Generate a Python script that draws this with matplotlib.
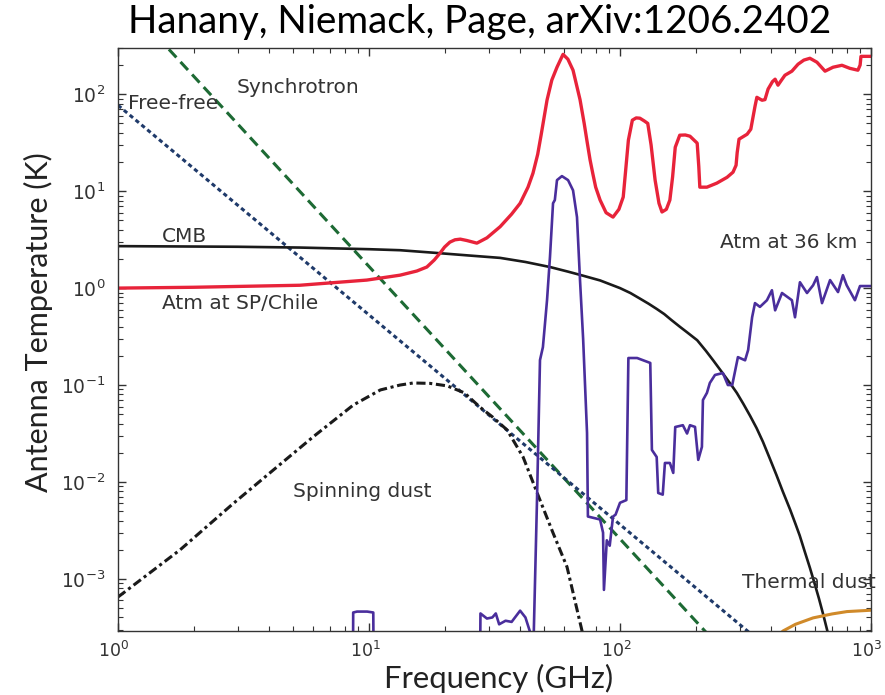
import numpy as np
import matplotlib
matplotlib.use("Agg")
import matplotlib.pyplot as plt
from matplotlib.transforms import ScaledTranslation

# ---------------- data ----------------
cmb_f = [1, 3, 5.3, 10, 13.3, 18, 25, 33.3, 42, 52.6, 62, 70, 83.3, 100, 110, 120, 130,
         140, 150, 160, 173, 185, 203, 220, 235, 250, 265, 280, 292, 310, 330, 350, 371,
         395, 420, 445, 476, 500, 520, 545, 571, 595, 620, 645, 668, 695, 720]
cmb_T = [2.71, 2.67, 2.62, 2.52, 2.46, 2.32, 2.17, 2.05, 1.86, 1.65, 1.48, 1.36, 1.2,
         1.0, 0.89, 0.78, 0.69, 0.61, 0.54, 0.47, 0.40, 0.35, 0.29, 0.225, 0.18, 0.145,
         0.118, 0.097, 0.083, 0.064, 0.048, 0.036, 0.026, 0.0175, 0.0118, 0.0080, 0.0052,
         0.0037, 0.0028, 0.0019, 0.0013, 0.00091, 0.00063, 0.00043, 0.00030, 0.00020,
         0.00013]

sync_f = [1, 300]
sync_T = [1080, 1.18e-4]

ff_f = [1, 1000]
ff_T = [77, 2.5e-5]

spin_f = [1, 1.77, 2.88, 4.16, 6.0, 8.66, 11.1, 13.3, 15.0, 17.5, 20.5, 24, 27.7, 31,
          35.5, 41.1, 48.0, 54.1, 61.5, 70.6, 80]
spin_T = [6.5e-4, 2.0e-3, 6.0e-3, 0.0133, 0.0293, 0.0622, 0.089, 0.100, 0.105, 0.104,
          0.098, 0.083, 0.059, 0.047, 0.0344, 0.0181, 6.5e-3, 2.98e-3, 1.33e-3, 2.9e-4, 6e-5]

atm_sp_f = [1, 2, 5.3, 9.8, 13.3, 15.5, 17.0, 18.2, 19.2, 20.0, 21.0, 22.0, 23.1, 24.5,
            26.9, 29.5, 33.3, 37, 40, 43, 45, 47, 48.5, 51.2, 53.5, 56.1, 59.3, 62, 65,
            69.3, 72, 74, 76, 78, 80, 83.3, 88, 93.8, 99, 103, 105, 108, 112, 116, 120,
            125, 129, 133, 138, 143, 147, 153, 158, 162, 166, 173, 182, 190, 203, 206,
            208, 222, 243, 267, 282, 290, 293, 298, 321, 332, 345, 351, 368, 378, 389,
            405, 415, 426, 440, 454, 484, 512, 540, 571, 609, 656, 706, 766, 824, 887,
            905, 912, 1000]
atm_sp_T = [1.0, 1.02, 1.07, 1.21, 1.36, 1.5, 1.65, 1.95, 2.3, 2.65, 2.98, 3.15, 3.2, 3.1,
            2.91, 3.3, 4.3, 5.8, 7.5, 11, 15.3, 24, 38, 87, 140, 190, 258, 230, 177,
            88, 50, 32, 21, 15, 11, 8.1, 6.0, 5.4, 6.5, 8.7, 15, 33.6, 54, 57, 56.6,
            53, 50, 30, 13, 7.5, 6.1, 6.5, 8.1, 14, 28.4, 37.8, 38, 36.9, 31.3, 18,
            11, 11, 12.1, 13.9, 15.7, 18.5, 25, 34.4, 38.7, 43.6, 75, 93, 86.7, 88, 113,
            135, 143, 124, 140, 157, 173, 204, 225, 235, 214, 173, 190, 199, 185, 177,
            200, 246, 246]

atm36_f = [1, 8.6, 8.65, 8.96, 9.83, 10.4, 10.5, 27.5, 27.8, 29.5, 31, 32, 33, 35, 37, 40,
           42, 44.5, 45.2, 46.7, 48, 49.3, 50.4, 51.2, 52.6, 54.1, 55, 56.1, 58.7, 62.1,
           65, 67.4, 69.3, 71.3, 73.9, 74.5, 83.3, 85.6, 86.3, 88.6, 91, 93.8, 96, 100,
           106, 108, 117, 132, 134, 140, 142, 148, 151, 158, 163, 166, 178, 185, 190,
           199, 205, 212, 214, 222, 228, 239, 257, 269, 280, 295, 315, 324, 336, 345,
           361, 385, 403, 415, 442, 484, 498, 521, 556, 588, 609, 638, 687, 739, 773,
           800, 863, 904, 1000]
atm36_T = [1e-5, 1e-5, 4.5e-4, 4.6e-4, 4.6e-4, 4.5e-4, 1e-5, 1e-5, 4.4e-4, 3.9e-4, 4.0e-4,
           4.4e-4, 3.4e-4, 3.7e-4, 3.6e-4, 4.7e-4, 4.0e-4, 2.5e-4, 2.0e-4, 6.5e-3, 0.181,
           0.246, 0.47, 0.75, 2.09, 7.5, 8.1, 13, 14.3, 13, 10.2, 5.4, 1.2, 0.3, 0.032,
           4.4e-3, 4.1e-3, 3.0e-3, 7.7e-4, 2.5e-3, 2.2e-3, 4.4e-3, 4.6e-3, 6.1e-3, 6.5e-3,
           0.19, 0.19, 0.169, 0.0214, 0.0181, 7.7e-3, 7.4e-3, 0.0157, 0.0157, 0.0124,
           0.0369, 0.0385, 0.0316, 0.0385, 0.037, 0.0169, 0.023, 0.07, 0.083, 0.105,
           0.127, 0.133, 0.1, 0.1, 0.194, 0.18, 0.23, 0.5, 0.7, 0.64, 0.75, 0.95, 0.59,
           0.89, 0.75, 0.5, 1.15, 0.89, 1.07, 1.3, 0.7, 1.21, 0.91, 1.36, 1.07, 0.75,
           1.05, 1.05]

tdust_f = [400, 446, 500, 588, 700, 802, 1000]
tdust_T = [2.2e-4, 2.9e-4, 3.4e-4, 3.96e-4, 4.35e-4, 4.6e-4, 4.75e-4]

title = "Hanany, Niemack, Page, arXiv:1206.2402"
xlabel = "Frequency (GHz)"
ylabel = "Antenna Temperature (K)"

# ---------------- figure ----------------
W, H = 885, 695
fig = plt.figure(figsize=(W / 100, H / 100), dpi=100)
ax = fig.add_axes([118 / W, 1 - 631 / H, (871 - 118) / W, (631 - 48) / H])

ax.plot(sync_f, sync_T, color="#1d6a34", lw=2.2, dashes=(3.6, 2.0))
ax.plot(ff_f, ff_T, color="#1f3a6a", lw=2.2, dashes=(1.4, 1.1))
ax.plot(spin_f, spin_T, color="#1a1a1a", lw=2.2, dashes=(3.0, 1.2, 1.0, 1.2))
ax.plot(cmb_f, cmb_T, color="#1a1a1a", lw=1.9)
ax.plot(tdust_f, tdust_T, color="#d08a2a", lw=2.2)
ax.plot(atm36_f, atm36_T, color="#4a2e9c", lw=1.9)
ax.plot(atm_sp_f, atm_sp_T, color="#e8233a", lw=2.4)

ax.set_xscale("log")
ax.set_yscale("log")
ax.set_xlim(1, 1000)
ax.set_ylim(2.9e-4, 300)

ax.tick_params(which="both", direction="in", top=True, right=True, colors="#333333")
ax.tick_params(axis="x", which="major", labelsize=12.5, pad=7)
ax.tick_params(axis="y", which="major", labelsize=13.5, pad=9)
ax.tick_params(which="major", length=6, width=1.0)
ax.tick_params(which="minor", length=3.5, width=0.8)
for s in ax.spines.values():
    s.set_color("#333333")
    s.set_linewidth(1.0)

# shift x tick labels a little to the left, as in the reference
shift = ScaledTranslation(-4 / 100, 0, fig.dpi_scale_trans)
for lab in ax.get_xticklabels():
    lab.set_transform(lab.get_transform() + shift)

txt = dict(fontsize=14.5, color="#333333", va="center", ha="left")
ax.text(2.98, 118, "Synchrotron", **txt)
ax.text(1.096, 80.7, "Free-free", **txt)
ax.text(1.497, 3.43, "CMB", **txt)
ax.text(1.497, 0.70, "Atm at SP/Chile", **txt)
ax.text(250, 2.98, "Atm at 36 km", **txt)
ax.text(4.98, 7.9e-3, "Spinning dust", **txt)
ax.text(306, 9.1e-4, "Thermal dust", **txt)

ff = "Lato"
fig.text(480 / W, 1 - 22 / H, title, ha="center", va="center", fontsize=27.8,
         family=ff, color="black")
fig.text(499 / W, 1 - 693 / H, xlabel, ha="center", va="bottom", fontsize=22.3,
         family=ff, color="#222222")
fig.text(38 / W, 1 - 322 / H, ylabel, ha="center", va="center", rotation=90,
         fontsize=22, family=ff, color="#222222")

fig.savefig("out.png", dpi=100)
